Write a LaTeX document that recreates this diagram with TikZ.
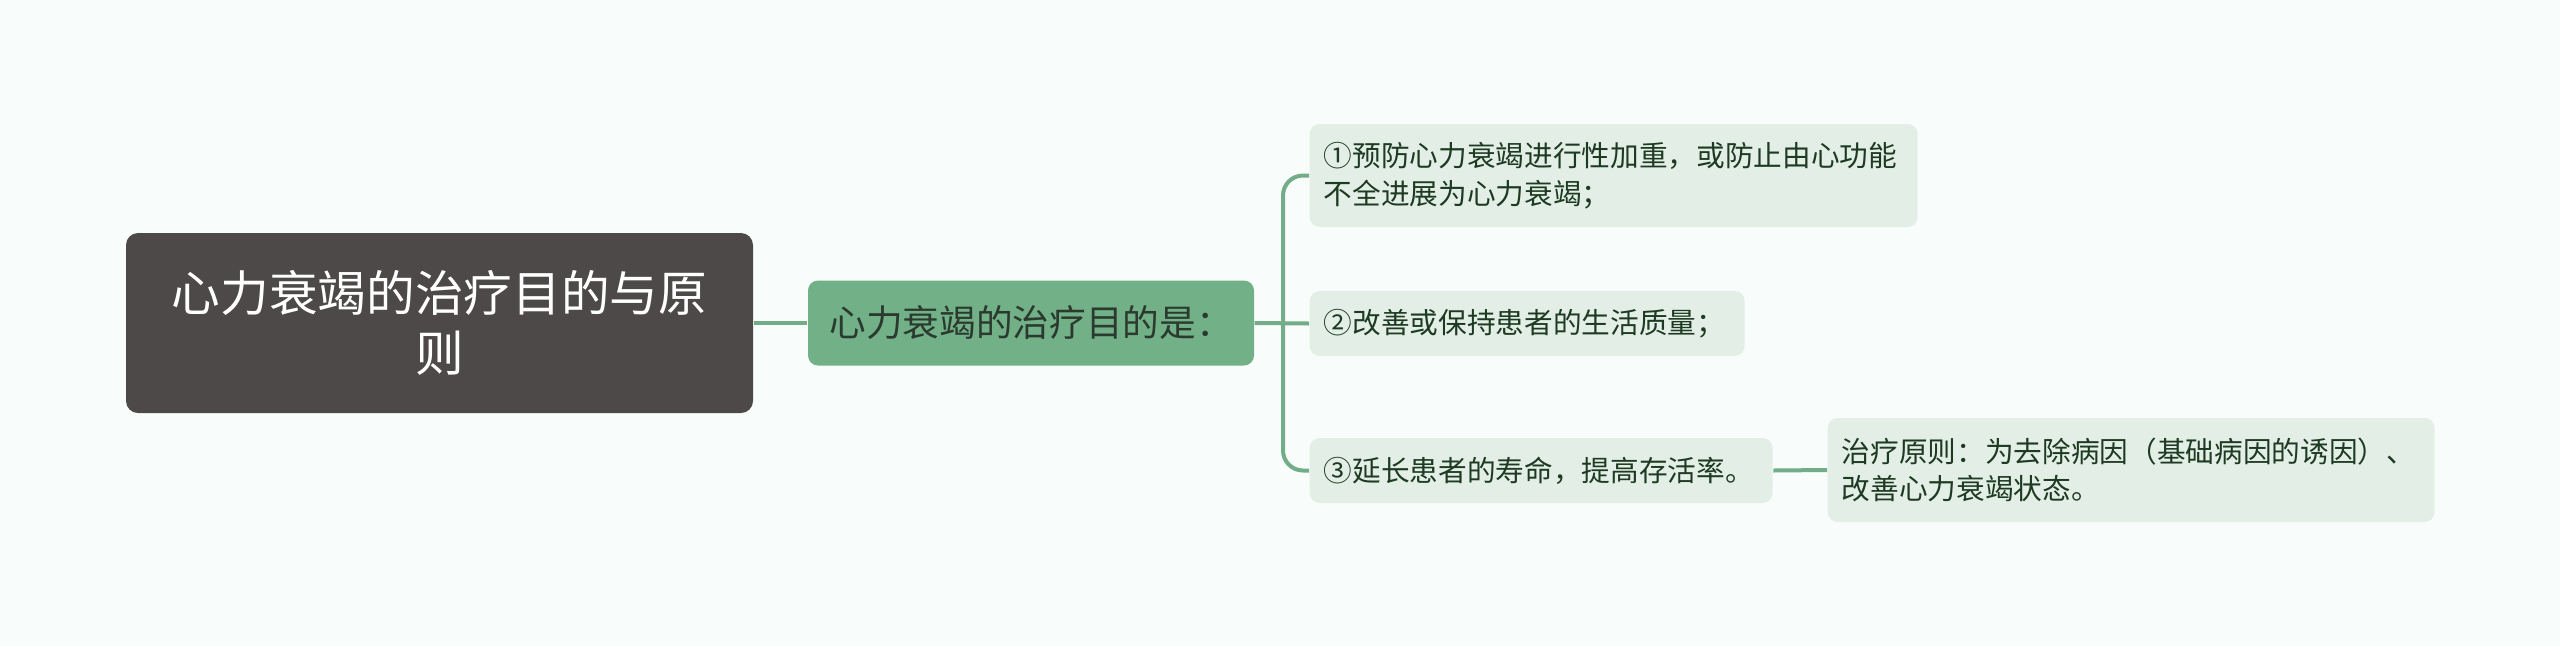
\documentclass[tikz,border=0pt]{standalone}
\usepackage{fontspec}
\setmainfont{Noto Sans CJK SC}
\definecolor{bgc}{HTML}{F8FDFC}
\definecolor{rootc}{HTML}{4E4949}
\definecolor{mainc}{HTML}{72B088}
\definecolor{leafc}{HTML}{E3EFE6}
\definecolor{linec}{HTML}{72AD88}
\definecolor{maintext}{HTML}{2B3A2E}
\definecolor{leaftext}{HTML}{1E3A22}
\begin{document}
\begin{tikzpicture}[x=0.3pt,y=-0.3pt,
  rootbox/.style={fill=rootc, rounded corners=3.6pt, text=white, font=\fontsize{14.6pt}{18pt}\selectfont,
    minimum width=188.1pt, minimum height=54pt, align=center, inner sep=0pt},
  mainbox/.style={fill=mainc, rounded corners=3pt, text=maintext, font=\fontsize{11pt}{13pt}\selectfont,
    minimum width=133.8pt, minimum height=25.5pt, align=center, inner sep=0pt},
  leafbox/.style={fill=leafc, rounded corners=3pt, text=leaftext, font=\fontsize{8.6pt}{11.3pt}\selectfont,
    minimum height=19.5pt, inner xsep=4.2pt, inner ysep=0pt, align=left, anchor=west},
  conn/.style={draw=linec, line width=1.2pt, rounded corners=6pt}]
\fill[bgc] (0,0) rectangle (2560,646);
\useasboundingbox (0,0) rectangle (2560,646);
\node[rootbox] (root) at (439.5,323) {心力衰竭的治疗目的与原\\则};
\node[mainbox] (main) at (1031,323) {心力衰竭的治疗目的是：};
\node[leafbox, text width=174pt, minimum height=30.9pt] (l1) at (1309,175.5) {①预防心力衰竭进行性加重，或防止由心功能\\不全进展为心力衰竭；};
\node[leafbox, text width=122.1pt] (l2) at (1309,323.5) {②改善或保持患者的生活质量；};
\node[leafbox, text width=130.5pt] (l3) at (1309,470.5) {③延长患者的寿命，提高存活率。};
\node[leafbox, text width=173.7pt, minimum height=31.2pt] (l4) at (1827,470) {治疗原则：为去除病因（基础病因的诱因）、\\改善心力衰竭状态。};
\coordinate (tx) at (1283,323);
\draw[conn] (root.east) -- (main.west);
\draw[conn] (main.east) -- (l2.west);
\draw[conn] (l1.west) -- (tx |- l1.west) -- (tx |- l3.west) -- (l3.west);
\draw[conn] (l3.east) -- (l4.west);
\end{tikzpicture}
\end{document}
